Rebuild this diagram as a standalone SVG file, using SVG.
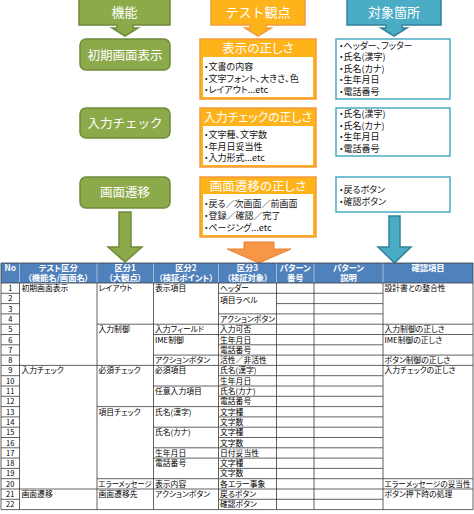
<svg xmlns="http://www.w3.org/2000/svg" width="474" height="514" viewBox="0 0 474 514">
<defs>
<style>
text { font-family: "Noto Sans CJK JP", "Noto Sans", sans-serif; }
.g { fill:#8DAA4B; stroke:#6F8A3B; stroke-width:1.5; }
.o { fill:#FFB31B; stroke:#F59A3C; stroke-width:1.5; }
.b { fill:#4BACC6; stroke:#31829A; stroke-width:1.5; }
.bx { fill:#fff; stroke:#4BACC6; stroke-width:1.5; }
.wt { fill:#fff; stroke:none; }
.hd { fill:#fff; font-size:13px; text-anchor:middle; }
.oh { fill:#fff; font-size:12.5px; text-anchor:middle; font-feature-settings:"palt"; }
.bd { fill:#111; font-size:9px; font-feature-settings:"palt"; }
.tb { fill:#000; font-size:7.8px; font-feature-settings:"palt"; }
.no { fill:#000; font-size:7.5px; text-anchor:middle; }
.th { fill:#fff; font-size:8.3px; font-weight:bold; text-anchor:middle; font-feature-settings:"palt"; }
.ln { fill:none; stroke:#3a3a3a; stroke-width:0.8; }
.hl { fill:none; stroke:#B8CCE4; stroke-width:0.8; }
</style>
</defs>

<!-- Column headers -->
<g id="h-kinou">
<path class="g" d="M79,-2H170V25H133V28H138L125,36L112,28H117V25H79Z"/>
<text class="hd" x="124.5" y="17">機能</text>
</g>
<g id="h-kanten">
<path class="o" d="M211,-2H305V25H266V28H271L258,36L245,28H250V25H211Z"/>
<text class="hd" x="258" y="17">テスト観点</text>
</g>
<g id="h-taisho">
<path class="b" d="M347,-2H441V25H402V28H407L394,36L381,28H386V25H347Z"/>
<text class="hd" x="394" y="17">対象箇所</text>
</g>

<!-- Row 1 -->
<g id="f-shoki">
<rect class="g" x="80" y="39" width="90" height="31" rx="6"/>
<text class="hd" x="125" y="59.5" style="font-size:12.5px">初期画面表示</text>
</g>
<g id="k-hyouji">
<rect class="o" x="200" y="39" width="116" height="60"/>
<rect class="wt" x="203" y="57" width="110" height="40"/>
<text class="oh" x="258" y="52.5">表示の正しさ</text>
<text class="bd" x="204" y="70">・文書の内容</text>
<text class="bd" x="204" y="81.5">・文字フォント、大きさ、色</text>
<text class="bd" x="204" y="93">・レイアウト...etc</text>
</g>
<g id="t-shoki">
<rect class="bx" x="336" y="39" width="114" height="60"/>
<text class="bd" x="339" y="48.5">・ヘッダー、フッター</text>
<text class="bd" x="339" y="60">・氏名(漢字)</text>
<text class="bd" x="339" y="71.5">・氏名(カナ)</text>
<text class="bd" x="339" y="83">・生年月日</text>
<text class="bd" x="339" y="94.5">・電話番号</text>
</g>

<!-- Row 2 -->
<g id="f-input">
<rect class="g" x="80" y="108" width="90" height="30" rx="6"/>
<text class="hd" x="125" y="127.5" style="font-size:12.5px">入力チェック</text>
</g>
<g id="k-input">
<rect class="o" x="200" y="108" width="116" height="59"/>
<rect class="wt" x="203" y="126" width="110" height="39"/>
<text class="oh" x="258" y="121.5" style="font-size:12px" textLength="108" lengthAdjust="spacingAndGlyphs">入力チェックの正しさ</text>
<text class="bd" x="204" y="138">・文字種、文字数</text>
<text class="bd" x="204" y="149.5">・年月日妥当性</text>
<text class="bd" x="204" y="161">・入力形式...etc</text>
</g>
<g id="t-input">
<rect class="bx" x="336" y="108" width="114" height="48"/>
<text class="bd" x="339" y="117">・氏名(漢字)</text>
<text class="bd" x="339" y="128.5">・氏名(カナ)</text>
<text class="bd" x="339" y="140">・生年月日</text>
<text class="bd" x="339" y="151.5">・電話番号</text>
</g>

<!-- Row 3 -->
<g id="f-seni">
<rect class="g" x="80" y="177" width="90" height="31" rx="6"/>
<text class="hd" x="125" y="197" style="font-size:12.5px">画面遷移</text>
</g>
<g id="k-seni">
<rect class="o" x="200" y="177" width="116" height="60"/>
<rect class="wt" x="203" y="194" width="110" height="41"/>
<text class="oh" x="258" y="190.5">画面遷移の正しさ</text>
<text class="bd" x="204" y="207">・戻る／次画面／前画面</text>
<text class="bd" x="204" y="219">・登録／確認／完了</text>
<text class="bd" x="204" y="231">・ページング...etc</text>
</g>
<g id="t-seni">
<rect class="bx" x="336" y="177" width="114" height="35"/>
<text class="bd" x="339" y="193">・戻るボタン</text>
<text class="bd" x="339" y="205">・確認ボタン</text>
</g>

<!-- Connectors (big arrows into the table) -->
<g id="connectors">
<path class="g" d="M119,212H131V247H142L125,262L108,247H119Z"/>
<path fill="#F79646" stroke="#E6802F" stroke-width="1" d="M244,242H274V249H291L259,263L227,249H244Z"/>
<path class="b" d="M389,216H400V247H411L394.5,263L378,247H389Z"/>
</g>

<!-- Table -->
<g id="table">
<rect x="1" y="263" width="472" height="246.6" fill="#fff"/>
<rect x="1" y="263" width="472" height="20" fill="#4F81BD"/>
<path class="hl" d="M19.5,263V283M97,263V283M153.5,263V283M218.5,263V283M276.5,263V283M314,263V283M383,263V283"/>
<path class="ln" d="M1,263H473M1,263V509.6M473,263V509.6M19.5,283V509.6M97,283V509.6M153.5,283V509.6M218.5,283V509.6M276.5,283V509.6M314,283V509.6M383,283V509.6"/>
<path class="ln" d="M1,283H473
M1,293.3H19.5M218.5,293.3H383
M1,303.6H19.5M276.5,303.6H383
M1,313.9H19.5M218.5,313.9H383
M1,324.2H19.5M97,324.2H473
M1,334.5H19.5M153.5,334.5H473
M1,344.8H19.5M218.5,344.8H383
M1,355.1H19.5M153.5,355.1H473
M1,365.4H473
M1,375.7H19.5M218.5,375.7H383
M1,386H19.5M153.5,386H383
M1,396.3H19.5M218.5,396.3H383
M1,406.6H19.5M97,406.6H383
M1,416.9H19.5M218.5,416.9H383
M1,427.2H19.5M153.5,427.2H383
M1,437.5H19.5M218.5,437.5H383
M1,447.8H19.5M153.5,447.8H383
M1,458.1H19.5M153.5,458.1H383
M1,468.4H19.5M218.5,468.4H383
M1,478.7H19.5M97,478.7H473
M1,489H473
M1,499.3H19.5M218.5,499.3H383
M1,509.6H473"/>

<!-- header texts -->
<text class="th" x="10.25" y="270.5">No</text>
<text class="th" x="58.25" y="270.5">テスト区分</text>
<text class="th" x="58.25" y="281">（機能名/画面名）</text>
<text class="th" x="125.25" y="270.5">区分1</text>
<text class="th" x="125.25" y="281">（大観点）</text>
<text class="th" x="186" y="270.5">区分2</text>
<text class="th" x="186" y="281">（検証ポイント）</text>
<text class="th" x="247.5" y="270.5">区分3</text>
<text class="th" x="247.5" y="281">（検証対象）</text>
<text class="th" x="295.25" y="270.5">パターン</text>
<text class="th" x="295.25" y="281">番号</text>
<text class="th" x="348.5" y="270.5">パターン</text>
<text class="th" x="348.5" y="281">説明</text>
<text class="th" x="428" y="270.5">確認項目</text>

<!-- No column -->
<text class="no" x="10.25" y="291">1</text>
<text class="no" x="10.25" y="301.3">2</text>
<text class="no" x="10.25" y="311.6">3</text>
<text class="no" x="10.25" y="321.9">4</text>
<text class="no" x="10.25" y="332.2">5</text>
<text class="no" x="10.25" y="342.5">6</text>
<text class="no" x="10.25" y="352.8">7</text>
<text class="no" x="10.25" y="363.1">8</text>
<text class="no" x="10.25" y="373.4">9</text>
<text class="no" x="10.25" y="383.7">10</text>
<text class="no" x="10.25" y="394">11</text>
<text class="no" x="10.25" y="404.3">12</text>
<text class="no" x="10.25" y="414.6">13</text>
<text class="no" x="10.25" y="424.9">14</text>
<text class="no" x="10.25" y="435.2">15</text>
<text class="no" x="10.25" y="445.5">16</text>
<text class="no" x="10.25" y="455.8">17</text>
<text class="no" x="10.25" y="466.1">18</text>
<text class="no" x="10.25" y="476.4">19</text>
<text class="no" x="10.25" y="486.7">20</text>
<text class="no" x="10.25" y="497">21</text>
<text class="no" x="10.25" y="507.3">22</text>

<!-- テスト区分 -->
<text class="tb" x="21.5" y="291">初期画面表示</text>
<text class="tb" x="21.5" y="373.4">入力チェック</text>
<text class="tb" x="21.5" y="497">画面遷移</text>

<!-- 区分1 -->
<text class="tb" x="98.5" y="291">レイアウト</text>
<text class="tb" x="98.5" y="332.2">入力制御</text>
<text class="tb" x="98.5" y="373.4">必須チェック</text>
<text class="tb" x="98.5" y="414.6">項目チェック</text>
<text class="tb" x="98.5" y="486.7" textLength="53" lengthAdjust="spacingAndGlyphs">エラーメッセージ</text>
<text class="tb" x="98.5" y="497">画面遷移先</text>

<!-- 区分2 -->
<text class="tb" x="155" y="291">表示項目</text>
<text class="tb" x="155" y="332.2">入力フィールド</text>
<text class="tb" x="155" y="342.5">IME制御</text>
<text class="tb" x="155" y="363.1">アクションボタン</text>
<text class="tb" x="155" y="373.4">必須項目</text>
<text class="tb" x="155" y="394">任意入力項目</text>
<text class="tb" x="155" y="414.6">氏名(漢字)</text>
<text class="tb" x="155" y="435.2">氏名(カナ)</text>
<text class="tb" x="155" y="455.8">生年月日</text>
<text class="tb" x="155" y="466.1">電話番号</text>
<text class="tb" x="155" y="486.7">表示内容</text>
<text class="tb" x="155" y="497">アクションボタン</text>

<!-- 区分3 -->
<text class="tb" x="220" y="291">ヘッダー</text>
<text class="tb" x="220" y="302.5">項目ラベル</text>
<text class="tb" x="220" y="321.9">アクションボタン</text>
<text class="tb" x="220" y="332.2">入力可否</text>
<text class="tb" x="220" y="342.5">生年月日</text>
<text class="tb" x="220" y="352.8">電話番号</text>
<text class="tb" x="220" y="363.1">活性／非活性</text>
<text class="tb" x="220" y="373.4">氏名(漢字)</text>
<text class="tb" x="220" y="383.7">生年月日</text>
<text class="tb" x="220" y="394">氏名(カナ)</text>
<text class="tb" x="220" y="404.3">電話番号</text>
<text class="tb" x="220" y="414.6">文字種</text>
<text class="tb" x="220" y="424.9">文字数</text>
<text class="tb" x="220" y="435.2">文字種</text>
<text class="tb" x="220" y="445.5">文字数</text>
<text class="tb" x="220" y="455.8">日付妥当性</text>
<text class="tb" x="220" y="466.1">文字種</text>
<text class="tb" x="220" y="476.4">文字数</text>
<text class="tb" x="220" y="486.7">各エラー事象</text>
<text class="tb" x="220" y="497">戻るボタン</text>
<text class="tb" x="220" y="507.3">確認ボタン</text>

<!-- 確認項目 -->
<text class="tb" x="384.5" y="291">設計書との整合性</text>
<text class="tb" x="384.5" y="332.2">入力制御の正しさ</text>
<text class="tb" x="384.5" y="342.5">IME制御の正しさ</text>
<text class="tb" x="384.5" y="363.1">ボタン制御の正しさ</text>
<text class="tb" x="384.5" y="373.4">入力チェックの正しさ</text>
<text class="tb" x="384.5" y="486.7" textLength="86" lengthAdjust="spacingAndGlyphs">エラーメッセージの妥当性</text>
<text class="tb" x="384.5" y="497">ボタン押下時の処理</text>
</g>
</svg>
